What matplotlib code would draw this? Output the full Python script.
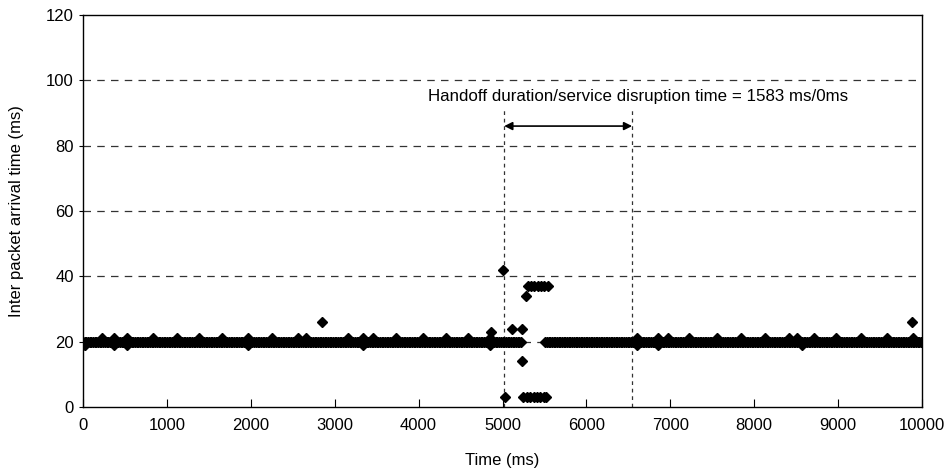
import numpy as np
import matplotlib
matplotlib.use("Agg")
import matplotlib.pyplot as plt

plt.rcParams['font.family'] = ['Liberation Sans', 'DejaVu Sans']

# regular packet stream (ms) at 20 ms inter-arrival
base_seg1 = (0, 5230)
base_seg2 = (5510, 10000)
base_step = 20
base_value = 20

# jitter points
up21_times = [223, 373, 521, 838, 1117, 1386, 1653, 1970, 2249, 2559, 2658, 3162,
              3341, 3460, 3731, 4049, 4327, 4592, 4851, 6600, 6857, 6969, 7223,
              7553, 7843, 8129, 8420, 8506, 8717, 8975, 9273, 9579, 9889]
down19_times = [0, 20, 373, 521, 1970, 3341, 4851, 6600, 6857, 8566]

# outliers
out_times = [2854, 4860, 5010, 5030, 5117, 5229, 5236, 5280,
             5300, 5340, 5380, 5420, 5460, 5500, 5540,
             5250, 5290, 5330, 5370, 5410, 5450, 5490, 5520,
             9877]
out_values = [26, 23, 42, 3, 24, 24, 14, 34,
              37, 37, 37, 37, 37, 37, 37,
              3, 3, 3, 3, 3, 3, 3, 3,
              26]

handoff_start = 5020
handoff_end = 6545
annotation = "Handoff duration/service disruption time = 1583 ms/0ms"

fig = plt.figure(figsize=(9.52, 4.72), dpi=100)
ax = fig.add_axes([0.0872, 0.1377, 0.8813, 0.8305])

t1 = np.arange(base_seg1[0], base_seg1[1] + 1, base_step)
t2 = np.arange(base_seg2[0], base_seg2[1] + 1, base_step)
tb = np.concatenate([t1, t2])
vb = np.full(tb.shape, base_value)

mk = dict(marker='D', color='black', markersize=5, linestyle='none')
ax.plot(tb, vb, **mk)
ax.plot(up21_times, [21] * len(up21_times), **mk)
ax.plot(down19_times, [19] * len(down19_times), **mk)
ax.plot(out_times, out_values, **mk)

for y in [20, 40, 60, 80, 100]:
    ax.axhline(y, color='#333333', lw=0.9, dashes=(6, 5), zorder=0)

for x in [handoff_start, handoff_end]:
    ax.plot([x, x], [0, 91.5], color='#333333', lw=0.9, dashes=(3, 3), zorder=1)

ax.annotate('', xy=(handoff_start, 86), xytext=(handoff_end, 86),
            arrowprops=dict(arrowstyle='<|-|>', color='black', lw=1.2,
                            mutation_scale=12, shrinkA=0, shrinkB=0))
ax.text(6610, 95, annotation, ha='center', va='center', fontsize=12.2)

ax.set_xlim(0, 10000)
ax.set_ylim(0, 120)
ax.set_xticks(range(0, 10001, 1000))
ax.set_yticks(range(0, 121, 20))
ax.tick_params(axis='x', direction='in', length=6, labelsize=12, pad=8)
ax.tick_params(axis='y', direction='out', length=3, labelsize=12)
ax.set_xlabel('Time (ms)', fontsize=12, labelpad=14)
ax.set_ylabel('Inter packet arrival time (ms)', fontsize=12, labelpad=16)
for s in ax.spines.values():
    s.set_linewidth(1.0)
    s.set_color('black')

fig.savefig('out.png', dpi=100)
